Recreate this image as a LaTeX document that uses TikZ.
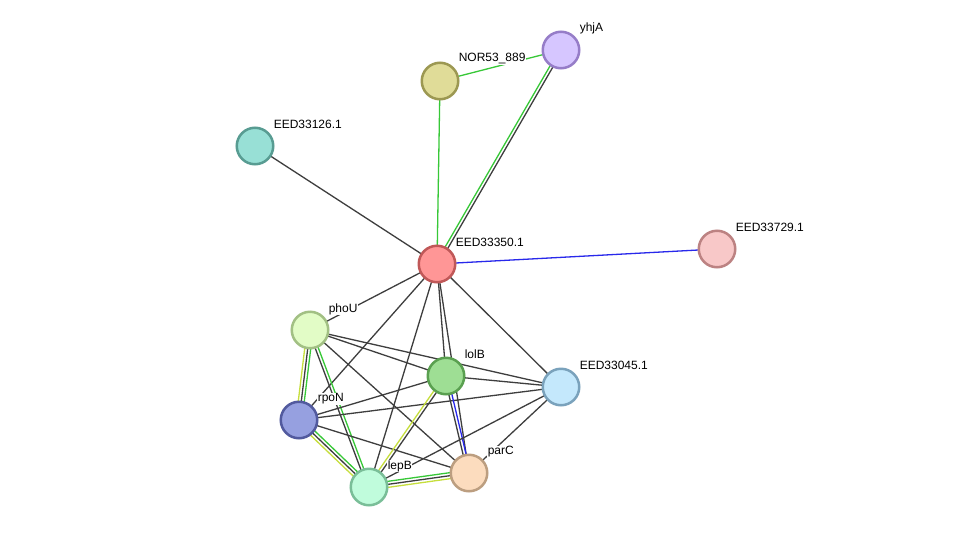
\documentclass[tikz,border=0pt]{standalone}
\usepackage{fontspec}
\setmainfont{Liberation Sans}
\usetikzlibrary{calc,backgrounds}
\definecolor{blk}{RGB}{62,62,62}
\definecolor{grn}{RGB}{55,200,55}
\definecolor{ylw}{RGB}{198,222,60}
\definecolor{blu}{RGB}{40,40,235}
\tikzset{
  prot/.style={circle,draw,line width=2.5pt,minimum size=36.5pt,inner sep=0pt},
  lbl/.style={anchor=west,fill=white,inner sep=0.6pt,font=\fontsize{12}{14}\selectfont},
  link/.style={line width=1.3pt},
}
% one line per evidence channel, set side by side
\newcommand{\edge}[3]{%
  \foreach \col/\off in {#3}{%
    \draw[link,\col] ($(#1)!\off pt!90:(#2)$) -- ($(#2)!\off pt!-90:(#1)$);}}
\begin{document}
\begin{tikzpicture}[x=1pt,y=-1pt]
        \useasboundingbox (0,0) rectangle (976,533);
        % proteins
        \node[prot,fill={rgb,255:red,214;green,198;blue,255},draw={rgb,255:red,150;green,125;blue,200}] (yhjA) at (561,50) {};
        \node[prot,fill={rgb,255:red,224;green,220;blue,152},draw={rgb,255:red,156;green,152;blue,82}] (nor) at (440,81) {};
        \node[prot,fill={rgb,255:red,152;green,224;blue,214},draw={rgb,255:red,88;green,156;blue,146}] (e126) at (255,146) {};
        \node[prot,fill={rgb,255:red,255;green,150;blue,150},draw={rgb,255:red,192;green,88;blue,88}] (e350) at (437,264) {};
        \node[prot,fill={rgb,255:red,248;green,200;blue,200},draw={rgb,255:red,188;green,130;blue,130}] (e729) at (717,249) {};
        \node[prot,fill={rgb,255:red,226;green,252;blue,198},draw={rgb,255:red,162;green,192;blue,132}] (phoU) at (310,330) {};
        \node[prot,fill={rgb,255:red,158;green,222;blue,148},draw={rgb,255:red,90;green,160;blue,80}] (lolB) at (446,376) {};
        \node[prot,fill={rgb,255:red,196;green,232;blue,252},draw={rgb,255:red,122;green,162;blue,188}] (e045) at (561,387) {};
        \node[prot,fill={rgb,255:red,150;green,160;blue,224},draw={rgb,255:red,82;green,90;blue,158}] (rpoN) at (299,420) {};
        \node[prot,fill={rgb,255:red,252;green,220;blue,190},draw={rgb,255:red,188;green,158;blue,128}] (parC) at (469,473) {};
        \node[prot,fill={rgb,255:red,192;green,252;blue,220},draw={rgb,255:red,122;green,190;blue,152}] (lepB) at (369,487) {};
        % names
        \node[lbl] (l-yhjA) at (579,28) {yhjA};
        \node[lbl] (l-nor) at (458,59) {NOR53\_889};
        \node[lbl] (l-e126) at (273,124) {EED33126.1};
        \node[lbl] (l-e350) at (455,242) {EED33350.1};
        \node[lbl] (l-e729) at (735,227) {EED33729.1};
        \node[lbl] (l-phoU) at (328,309) {phoU};
        \node[lbl] (l-lolB) at (464,354) {lolB};
        \node[lbl] (l-e045) at (579,365) {EED33045.1};
        \node[lbl] (l-rpoN) at (317,399) {rpoN};
        \node[lbl] (l-parC) at (487,452) {parC};
        \node[lbl] (l-lepB) at (387,466) {lepB};
        % links
        \begin{scope}[on background layer]
        \fill[white] (0,0) rectangle (976,533);
        \edge{nor}{yhjA}{grn/0}
        \edge{nor}{e350}{grn/0}
        \edge{yhjA}{e350}{grn/-1.5,blk/1.5}
        \edge{e126}{e350}{blk/0}
        \edge{e350}{e729}{blu/0}
        \edge{e350}{phoU}{blk/0}
        \edge{e350}{rpoN}{blk/0}
        \edge{e350}{lepB}{blk/0}
        \edge{e350}{lolB}{blk/0}
        \edge{e350}{parC}{blk/0}
        \edge{e350}{e045}{blk/0}
        \edge{phoU}{rpoN}{ylw/-3,blk/0,grn/3}
        \edge{phoU}{lepB}{blk/-1.5,grn/1.5}
        \edge{phoU}{lolB}{blk/0}
        \edge{phoU}{e045}{blk/0}
        \edge{phoU}{parC}{blk/0}
        \edge{rpoN}{lolB}{blk/0}
        \edge{rpoN}{e045}{blk/0}
        \edge{rpoN}{parC}{blk/0}
        \edge{rpoN}{lepB}{ylw/-3,blk/0,grn/3}
        \edge{lolB}{e045}{blk/0}
        \edge{lolB}{lepB}{ylw/-1.5,blk/1.5}
        \edge{lolB}{parC}{blk/-1.5,blu/1.5}
        \edge{lepB}{parC}{ylw/-3,blk/0,grn/3}
        \edge{lepB}{e045}{blk/0}
        \edge{parC}{e045}{blk/0}
        \end{scope}
\end{tikzpicture}
\end{document}
